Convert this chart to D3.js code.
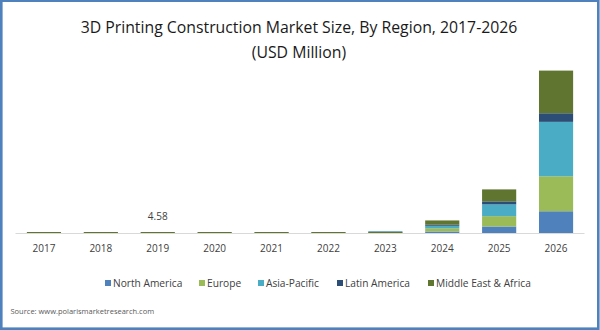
<!DOCTYPE html>
<html>

<head>
    <meta charset="utf-8">
    <style>
        body {
            margin: 0;
            background: white;
        }

        svg {
            display: block;
            font-family: 'Open Sans', 'Noto Sans', sans-serif;
        }
    </style>
</head>

<body>
    <svg width="600" height="330"></svg>
</body>

<script src="https://d3js.org/d3.v7.min.js"></script>

<script>

    // market size by region, USD million
    let years = ["2017", "2018", "2019", "2020", "2021", "2022", "2023", "2024", "2025", "2026"]
    let regions = ["North America", "Europe", "Asia-Pacific", "Latin America", "Middle East & Africa"]

    let northAmerica = [0.5, 0.62, 0.78, 0.85, 1.0, 1.5, 4, 13, 56, 187]
    let europe = [0.66, 0.82, 1.05, 1.15, 1.4, 2.0, 5, 28, 89, 301]
    let asiaPacific = [0.66, 0.82, 1.05, 1.15, 1.4, 2.0, 5, 21, 101, 468]
    let latinAmerica = [0.2, 0.25, 0.32, 0.35, 0.4, 0.6, 2, 9, 26, 74]
    let middleEastAfrica = [0.88, 1.09, 1.38, 1.5, 1.8, 2.5, 8, 37, 103, 367]

    // only 2019 carries a value label
    let labelled = { "2019": "4.58" }

    let colors = ["#4f81bd", "#9bbb59", "#4bacc6", "#2c4d75", "#5f7530"]

    let series = [northAmerica, europe, asiaPacific, latinAmerica, middleEastAfrica]

    let rows = years.map((yr, i) => {
        let row = { year: yr }
        regions.forEach((r, j) => row[r] = series[j][i])
        return row
    })

    let stacked = d3.stack().keys(regions)(rows)

    let svg = d3.select("svg")

    // blue frame round the whole picture
    svg.append("rect")
        .attr("x", 1.3)
        .attr("y", 0.7)
        .attr("width", 597)
        .attr("height", 328)
        .attr("fill", "white")
        .attr("stroke", "#4f81bd")
        .attr("stroke-width", 2.6)

    // title
    let title = svg.append("text")
        .attr("text-anchor", "middle")
        .attr("fill", "#1a1a1a")
        .style("font-size", "15.8px")
    title.append("tspan").attr("x", 299).attr("y", 32.5).text("3D Printing Construction Market Size, By Region, 2017-2026")
    title.append("tspan").attr("x", 299).attr("y", 58).text("(USD Million)")

    let x = d3.scaleBand()
        .domain(years)
        .range([15.5, 584.5])
        .paddingInner(0.4)
        .paddingOuter(0.2)

    let y = d3.scaleLinear()
        .domain([0, 1600])
        .range([233, 47])

    // category axis line, drawn under the bars
    svg.append("line")
        .attr("x1", 15.5)
        .attr("x2", 584.5)
        .attr("y1", 233.5)
        .attr("y2", 233.5)
        .attr("stroke", "#d9d9d9")
        .attr("stroke-width", 1)

    let bars = svg.append("g")

    stacked.forEach((layer, j) => {
        let last = j == stacked.length - 1
        bars.append("g")
            .attr("fill", colors[j])
            .selectAll("rect")
            .data(layer)
            .join("rect")
            .attr("x", d => x(d.data.year))
            .attr("width", x.bandwidth())
            .attr("y", d => {
                let h = y(d[0]) - y(d[1])
                // keep the top of tiny stacks visible as a 1px line
                return last && h < 1 ? y(0) - 1 : y(d[1])
            })
            .attr("height", d => {
                let h = y(d[0]) - y(d[1])
                return last ? Math.max(h, 1) : h
            })
    })

    svg.append("g")
        .selectAll("text")
        .data(years)
        .join("text")
        .attr("x", d => x(d) + x.bandwidth() / 2)
        .attr("y", 251.5)
        .attr("text-anchor", "middle")
        .attr("fill", "#404040")
        .style("font-size", "10px")
        .text(d => d)

    // value label above the 2019 stack
    let totals = rows.map(r => d3.sum(regions, k => r[k]))
    svg.append("g")
        .selectAll("text")
        .data(years.filter(d => labelled[d]))
        .join("text")
        .attr("x", d => x(d) + x.bandwidth() / 2)
        .attr("y", d => y(totals[years.indexOf(d)]) - 12)
        .attr("text-anchor", "middle")
        .attr("fill", "#404040")
        .style("font-size", "10px")
        .text(d => labelled[d])

    // legend, one swatch and name per region
    let legendX = [105, 199, 258, 337, 428]
    let legend = svg.append("g")
    regions.forEach((r, j) => {
        legend.append("rect")
            .attr("x", legendX[j])
            .attr("y", 280)
            .attr("width", 6)
            .attr("height", 6)
            .attr("fill", colors[j])
        legend.append("text")
            .attr("x", legendX[j] + 8)
            .attr("y", 286.5)
            .attr("fill", "#404040")
            .style("font-size", "10.2px")
            .text(r)
    })

    svg.append("text")
        .attr("x", 10.5)
        .attr("y", 313.5)
        .attr("fill", "#595959")
        .style("font-size", "7.5px")
        .text("Source:  www.polarismarketresearch.com")

</script>

</html>
